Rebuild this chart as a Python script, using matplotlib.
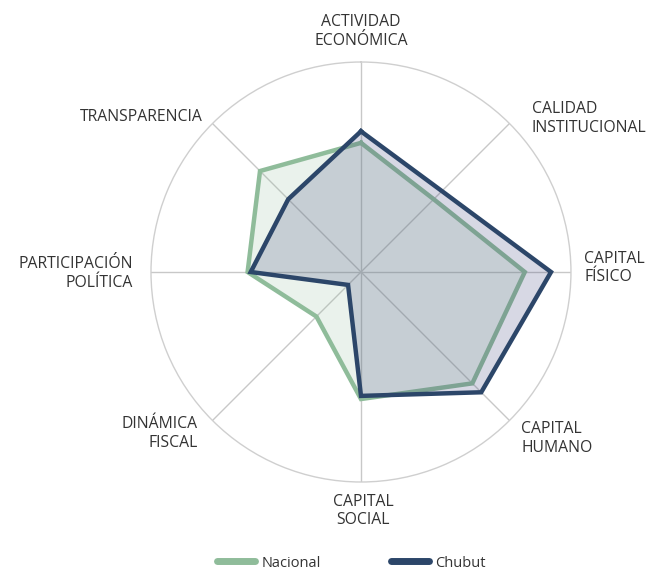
import numpy as np
import matplotlib
matplotlib.use('Agg')
import matplotlib.pyplot as plt
from matplotlib.lines import Line2D

plt.rcParams['font.family'] = ['Open Sans', 'DejaVu Sans']

# Datos (escala 0-100)
categorias = ['ACTIVIDAD\nECONÓMICA', 'CALIDAD\nINSTITUCIONAL', 'CAPITAL\nFÍSICO',
              'CAPITAL\nHUMANO', 'CAPITAL\nSOCIAL', 'DINÁMICA\nFISCAL',
              'PARTICIPACIÓN\nPOLÍTICA', 'TRANSPARENCIA']
nacional = [61.5, 49, 78, 75, 60.5, 30, 54, 68]
chubut = [67, 54.5, 90.5, 81, 59, 8.7, 52.5, 49]

# label offsets from the outer ring, in points: (dx, dy, ha)
label_off = [(0, 22, 'center'), (16, 3.5, 'left'), (9.5, 3, 'left'),
             (8.5, -13, 'left'), (1.5, -21, 'center'), (-10.5, -9.5, 'right'),
             (-13, -1, 'right'), (-7, 5, 'right')]

verde = '#8fbc9a'
azul = '#2c4669'
texto = '#333333'

n = len(categorias)
angulos = np.linspace(0, 2 * np.pi, n, endpoint=False)
ang_c = np.append(angulos, angulos[0])

fig = plt.figure(figsize=(6.53, 5.70), dpi=100)
ax = fig.add_axes([0.2312, 0.1544, 0.6432, 0.7368], projection='polar')
ax.set_theta_offset(np.pi / 2)
ax.set_theta_direction(-1)
ax.set_ylim(0, 100)

# Nacional
vals = np.append(nacional, nacional[0])
ax.fill(ang_c, vals, color=verde, alpha=0.18, zorder=2)
ax.plot(ang_c, vals, color=verde, linewidth=3.2, zorder=3, solid_joinstyle='miter')

# Chubut
vals = np.append(chubut, chubut[0])
ax.fill(ang_c, vals, color='#3a3f78', alpha=0.2, zorder=4)
ax.plot(ang_c, vals, color=azul, linewidth=3.2, zorder=5, solid_joinstyle='miter')

# grid: only spokes and outer circle
ax.set_yticks([])
ax.set_xticks(angulos)
ax.set_xticklabels([])
ax.xaxis.grid(True, color='#c8c8c8', linewidth=1)
ax.spines['polar'].set_color('#cfcfcf')
ax.spines['polar'].set_linewidth(1)

for ang, lab, (dx, dy, ha) in zip(angulos, categorias, label_off):
    ax.annotate(lab, xy=(ang, 100), xytext=(dx, dy), textcoords='offset points',
                ha=ha, va='center', multialignment=ha, fontsize=11.3,
                color=texto, linespacing=1.2, annotation_clip=False)

handles = [Line2D([0], [0], color=verde, linewidth=5, solid_capstyle='round'),
           Line2D([0], [0], color=azul, linewidth=5, solid_capstyle='round')]
fig.legend(handles, ['Nacional', 'Chubut'], loc='lower center',
           bbox_to_anchor=(0.538, -0.024), ncol=2, frameon=False,
           fontsize=10.5, handlelength=2.6, handletextpad=0.45,
           columnspacing=4.8, labelcolor=texto)

fig.savefig('out.png', dpi=100)
